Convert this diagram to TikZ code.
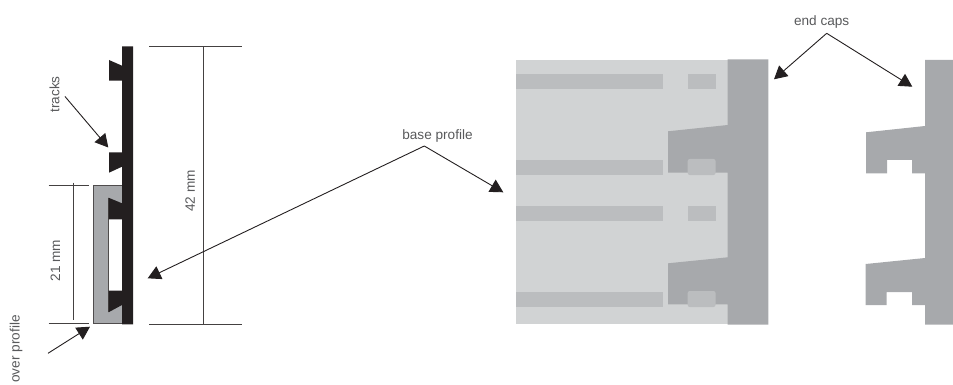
\documentclass[tikz,border=0pt]{standalone}
\usepackage{fontspec}
\setmainfont{Liberation Sans}
\usetikzlibrary{arrows.meta}
\definecolor{lbl}{HTML}{58595B}
\definecolor{ink}{HTML}{231F20}
\definecolor{capgray}{HTML}{A7A9AC}
\definecolor{basegray}{HTML}{D1D3D4}
\definecolor{stripgray}{HTML}{BBBDBF}
\tikzset{
  lab/.style={inner sep=0pt,text=lbl,font=\fontsize{13.6}{15}\selectfont},
  dim/.style={draw=ink!85,line width=0.8pt},
  pointer/.style={draw=ink,line width=0.9pt,-{Triangle[length=13pt,width=14pt]}},
  strip/.style={fill=stripgray},
  capfill/.style={fill=capgray},
}
\begin{document}
\begin{tikzpicture}[x=1pt,y=-1pt]
\useasboundingbox (0,0) rectangle (953,385);
% left section: cover profile
\fill[capgray,draw=ink!80,line width=0.5pt] (93.3,185) -- (122,185) -- (122,323.7) -- (93.3,323.7) -- cycle;
\fill[white] (108,219) rectangle (122,291);
\draw[ink!80,line width=0.6pt] (108,197.7) -- (108,312.3);
% base profile
\fill[ink] (122,46.5) -- (133,46.5) -- (133,324.3) -- (122,324.3) -- (122,305) -- (108.5,312.3) -- (108.5,290.7) -- (122,290.7)
  -- (122,219.3) -- (108.5,219.3) -- (108.5,197.7) -- (122,203.3) -- (122,166.7) -- (109,172.7) -- (109,152.3) -- (122,152.3)
  -- (122,80.7) -- (109,80.7) -- (109,60) -- (122,65.7) -- cycle;
% dimensions
\coordinate (d42a) at (149,46.7); \coordinate (d42b) at (242,46.7);
\coordinate (d42c) at (149,324); \coordinate (d42d) at (242,324);
\coordinate (d42t) at (203.7,46.7); \coordinate (d42u) at (203.7,324);
\draw[dim] (d42a) -- (d42b); \draw[dim] (d42c) -- (d42d); \draw[dim] (d42t) -- (d42u);
\coordinate (d21a) at (48.7,185); \coordinate (d21b) at (89,185);
\coordinate (d21c) at (48.7,323.7); \coordinate (d21d) at (89,323.7);
\coordinate (d21t) at (73,182.5); \coordinate (d21u) at (73,320);
\draw[dim] (d21a) -- (d21b); \draw[dim] (d21c) -- (d21d); \draw[dim] (d21t) -- (d21u);
\node[lab,rotate=90] (t42) at (190,191) {42 mm};
\node[lab,rotate=90] (t21) at (55.5,260.5) {21 mm};
\node[lab,rotate=90] (ttracks) at (54.5,94.5) {tracks};
\node[lab,rotate=90] (tover) at (16,349) {over profile};
% right assembly
\fill[basegray] (516,60) rectangle (728,324.4);
\foreach \y in {74,160,206,292}{
  \fill[strip] (516,\y) rectangle (663,\y+15);
}
% cap with lugs
\fill[capfill] (727.7,59.4) -- (768.3,59.4) -- (768.3,324.5) -- (727.7,324.5) -- (727.7,304.3) -- (668,304.3) -- (668,263.3) -- (727.7,257.3)
  -- (727.7,172.7) -- (668,172.7) -- (668,131.3) -- (727.7,125) -- cycle;
\fill[strip] (687.7,74) rectangle (715.5,89);
\fill[strip] (687.7,206) rectangle (715.5,221);
\fill[strip,rounded corners=2pt] (687.7,159) rectangle (715.5,175);
\fill[strip,rounded corners=2pt] (687.7,291) rectangle (715.5,307);
% free end cap
\fill[capfill] (925,60) -- (953,60) -- (953,324.7) -- (925,324.7) -- (925,305) -- (912,305) -- (912,292) -- (886.7,292) -- (886.7,305) -- (865.7,305) -- (865.7,264) -- (925,258)
  -- (925,173.3) -- (912,173.3) -- (912,160) -- (887,160) -- (887,173.3) -- (866,173.3) -- (866,132.3) -- (925,126) -- cycle;
% labels and pointers
\node[lab] (tbase) at (437.5,135.7) {base profile};
\node[lab] (tcaps) at (821.7,21.7) {end caps};
\coordinate (tr0) at (65,96.5); \coordinate (tr1) at (108.3,147.5);
\draw[pointer] (tr0) -- (tr1);
\coordinate (ov0) at (48,353.3); \coordinate (ov1) at (90,326.7);
\draw[pointer] (ov0) -- (ov1);
\coordinate (ba) at (424.3,146); \coordinate (bl) at (147.7,278.3); \coordinate (br) at (503.3,192.3);
\draw[pointer] (ba) -- (bl); \draw[pointer] (ba) -- (br);
\coordinate (ca) at (826.7,33.3); \coordinate (cl) at (774,79.3); \coordinate (cr) at (912.3,86.7);
\draw[pointer] (ca) -- (cl); \draw[pointer] (ca) -- (cr);
\end{tikzpicture}
\end{document}
